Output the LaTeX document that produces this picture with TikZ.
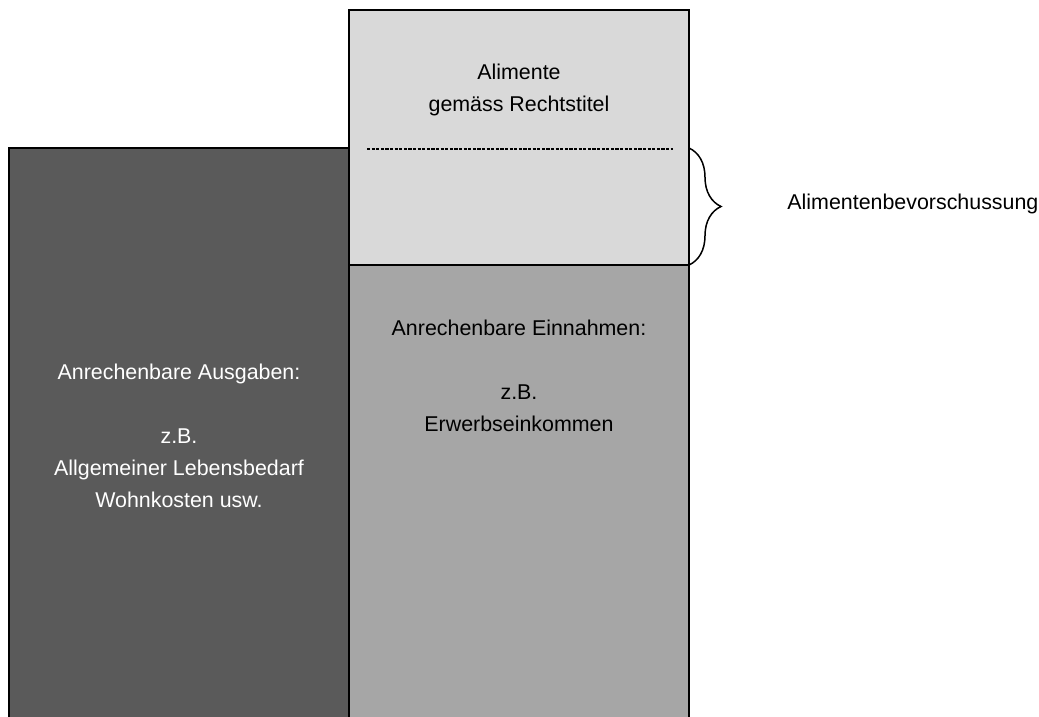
\documentclass[tikz,border=0pt]{standalone}
\usepackage{fontspec}
\setmainfont{Liberation Sans}
\usepackage{xcolor}
\usetikzlibrary{decorations.pathreplacing}
\definecolor{ausgaben}{HTML}{5A5A5A}
\definecolor{einnahmen}{HTML}{A6A6A6}
\definecolor{alimente}{HTML}{D9D9D9}
\tikzset{
    bartext/.style = {align=center, inner sep=0pt, anchor=base, font=\fontsize{10.7}{16}\selectfont},
    barline/.style = {draw=black, line width=0.75pt},
    titelline/.style = {line width=1pt, dash pattern=on 1.6pt off 0.7pt},
    bracket/.style = {line width=0.75pt, decorate, decoration={brace, amplitude=16pt}}
}

\begin{document}
\begin{tikzpicture}
            [x=0.5pt, y=-0.5pt]

            \useasboundingbox (0,0) rectangle (1039,717);

            % Saeulen
            \fill [ausgaben] (9,148) rectangle (349,718);
            \fill [einnahmen] (349,265) rectangle (689,718);
            \fill [alimente] (349,10) rectangle (689,265);
            \draw [barline] (9,718) -- (9,148) -- (349,148) -- (349,718);
            \draw [barline] (349,718) -- (349,10) -- (689,10) -- (689,718);
            \draw [barline] (349,265) -- (689,265);
            \draw [titelline] (367,149) -- (673,149);

            \coordinate (b1) at (689,148);
            \coordinate (b2) at (689,265);
            \draw [bracket] (b1) -- (b2);

            % anchor base = letzte Zeile
            \node [bartext] (alimente) at (519,112) {Alimente\\gemäss Rechtstitel};
            \node [bartext] (einnahmen) at (519,431) {Anrechenbare Einnahmen:\\[16pt]z.B.\\Erwerbseinkommen};
            \node [bartext, white] (ausgaben) at (179,507) {Anrechenbare Ausgaben:\\[16pt]z.B.\\Allgemeiner Lebensbedarf\\Wohnkosten usw.};
            \node [bartext, anchor=base west] (vorschuss) at (787,209) {Alimentenbevorschussung};
\end{tikzpicture}
\end{document}
